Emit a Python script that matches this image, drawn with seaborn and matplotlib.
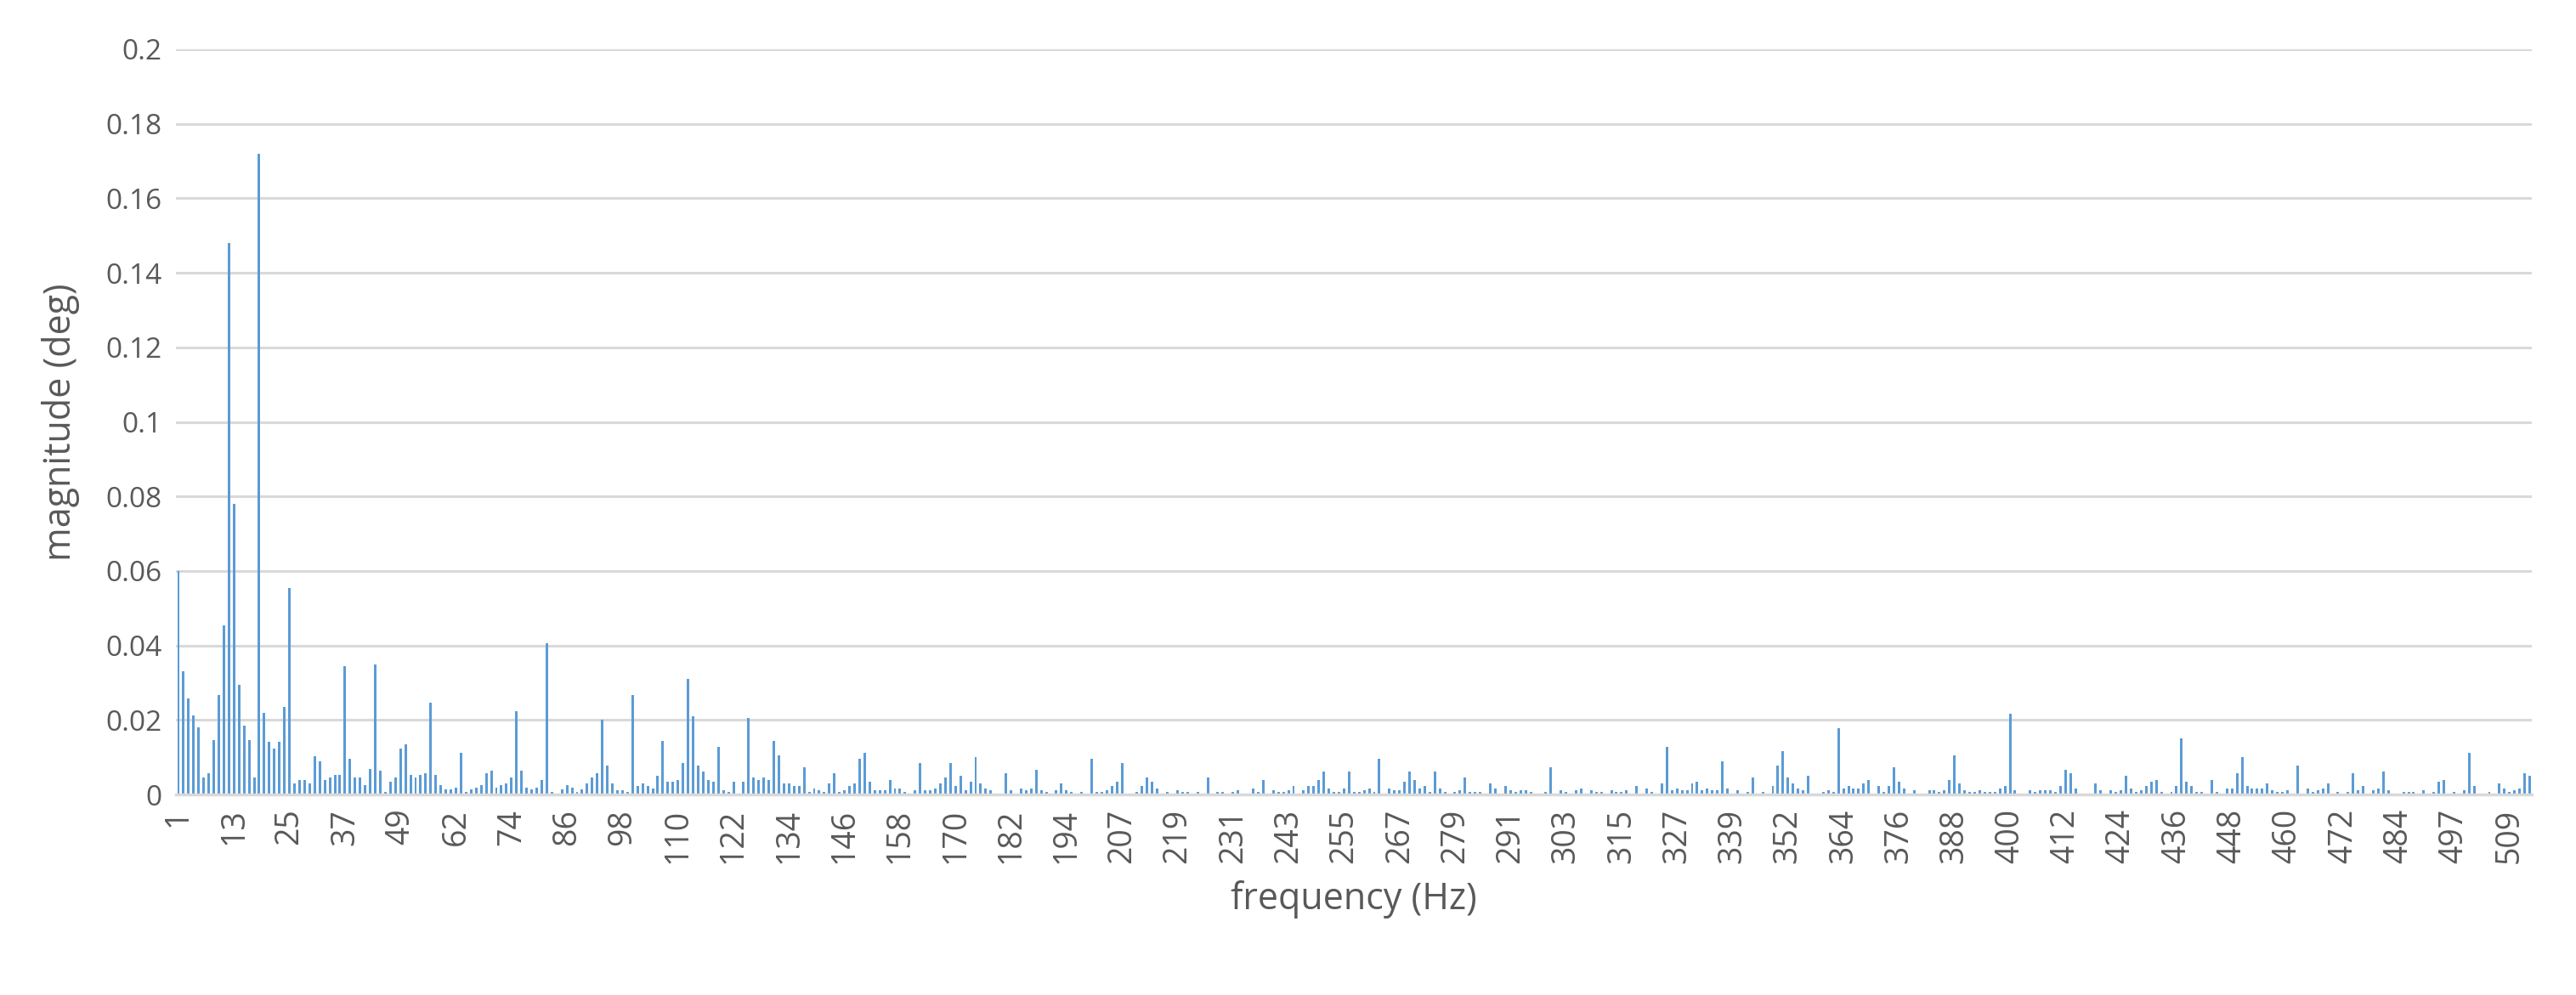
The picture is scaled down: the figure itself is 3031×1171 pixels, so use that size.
import matplotlib
matplotlib.use("Agg")
import matplotlib.pyplot as plt
import seaborn as sns
import numpy as np
import pandas as pd

vals_a = [0.060,0.033,0.0257,0.0212,0.018,0.0046,0.0057,0.0147,0.0267,0.0455,
0.148,0.078,0.0295,0.0185,0.0147,0.0046,0.172,0.0218,0.0141,0.0124,
0.0141,0.0234,0.0554,0.003,0.004,0.004,0.003,0.0102,0.009,0.004,
0.0046,0.0052,0.0052,0.0345,0.0096,0.0046,0.0046,0.0025,0.0069,0.035,
0.0064,0.0008,0.0035,0.0046,0.0124,0.0135,0.0052,0.0046,0.0052,0.0057,
0.0246,0.0052,0.0025,0.0013,0.0013,0.0019,0.0112,0.0008,0.0013,0.0019,
0.0025,0.0057,0.0064,0.0019,0.0025,0.003,0.0046,0.0223,0.0064,0.0019,
0.0013,0.0019,0.004,0.0405,0.0008,0.0003,0.0013,0.0025,0.0019,0.0008,0.0013]
vals_b = [0.0029,0.0045,0.0056,0.020,0.0078,0.0029,0.0012,0.0012,0.0006,0.0266,
0.0022,0.0029,0.0022,0.0017,0.005,0.0144,0.0034,0.0034,0.004,0.0084,
0.031,0.021,0.0078,0.0061,0.004,0.0034,0.0128,0.0012,0.0006,0.0034,
0,0.0034,0.0205,0.0045,0.004,0.0045,0.004,0.0144,0.0106,0.0029,
0.0029,0.0022,0.0022,0.0073,0.0006,0.0017,0.0012,0.0006,0.0029,0.0056,
0.0006,0.0012,0.0022,0.0029,0.0095,0.0112,0.0034,0.0012,0.0012,0.0012,
0.004,0.0017,0.0017,0.0006,0,0.0012,0.0084,0.0012,0.0012,0.0017,
0.0029,0.0045,0.0084,0.0022,0.005,0.0012,0.0034,0.010]
vals_c = [0.0029,0.0017,0.0012,0,0,0.0056,0.0012,0,0.0017,0.0012,
0.0017,0.0067,0.0012,0.0006,0,0.0012,0.0029,0.0012,0.0006,0,
0.0006,0,0.0095,0.0006,0.0006,0.0012,0.0022,0.0034,0.0084,0,
0,0.0006,0.0022,0.0045,0.0034,0.0017,0,0.0006,0,0.0012,
0.0006,0.0006,0,0.0006,0,0.0045,0,0.0006,0.0006,0,
0.0006,0.0012,0,0,0.0017,0.0006,0.004,0,0.0012,0.0006,
0.0006,0.0012,0.0022,0,0.0012,0.0022,0.0022,0.004,0.0061,0.0017,
0.0006,0.0006,0.0017,0.0061,0.0006,0.0006,0.0012]
vals_d = [0.0017,0.0006,0.0095,0,0.0017,0.0012,0.0012,0.0034,0.0061,0.004,
0.0017,0.0022,0.0006,0.0061,0.0017,0.0006,0,0.0006,0.0012,0.0045,
0.0006,0.0006,0.0006,0,0.0029,0.0017,0,0.0022,0.0012,0.0006,
0.0012,0.0012,0.0006,0,0,0.0006,0.0073,0,0.0012,0.0006,
0,0.0012,0.0017,0,0.0012,0.0006,0.0006,0,0.0012,0.0006,
0.0006,0.0012,0,0.0022,0,0.0017,0.0006,0,0.0029,0.0128,
0.0012,0.0017,0.0012,0.0012,0.0029,0.0034,0.0012,0.0017,0.0012,0.0012,
0.0089,0.0017,0,0.0012,0,0.0006,0.0045]
vals_e = [0,0.0006,0,0.0022,0.0078,0.0117,0.0045,0.0029,0.0017,0.0012,
0.005,0,0,0.0006,0.0012,0.0006,0.0178,0.0017,0.0022,0.0017,
0.0017,0.0029,0.004,0,0.0022,0.0006,0.0022,0.0073,0.0034,0.0017,
0,0.0012,0,0,0.0012,0.0012,0.0006,0.0012,0.004,0.0106,
0.0029,0.0012,0.0006,0.0006,0.0012,0.0006,0.0006,0.0006,0.0017,0.0022,
0.0216,0.0012,0,0,0.0012,0.0006,0.0012,0.0012,0.0012,0.0006,
0.0022,0.0067,0.0056,0.0017,0,0,0,0.0029,0.0012,0,
0.0012,0.0006,0.0012,0.005,0.0017,0.0006,0.0012,0.0022]
vals_f = [0.0034,0.004,0.0006,0,0.0006,0.0022,0.015,0.0034,0.0022,0.0006,
0.0006,0,0.004,0.0006,0,0.0017,0.0017,0.0056,0.010,0.0022,
0.0017,0.0017,0.0017,0.0029,0.0012,0.0006,0.0006,0.0012,0,0.0078,
0,0.0017,0.0006,0.0012,0.0017,0.0029,0,0.0006,0,0.0006,
0.0056,0.0012,0.0022,0,0.0012,0.0017,0.0061,0.0012,0,0,
0.0006,0.0006,0.0006,0,0.0012,0,0.0006,0.0034,0.004,0,
0.0006,0,0.0012,0.0112,0.0022,0,0,0.0006,0,0.0029,
0.0017,0.0006,0.0012,0.0017,0.0056,0.005]
magnitude = vals_a + vals_b + vals_c + vals_d + vals_e + vals_f

tick_labels = ["1","13","25","37","49","62","74","86","98","110","122","134","146","158",
"170","182","194","207","219","231","243","255","267","279","291","303","315","327",
"339","352","364","376","388","400","412","424","436","448","460","472","484","497","509"]

n = len(magnitude)
df = pd.DataFrame({"bin": np.arange(n), "magnitude": magnitude})

sns.set_style("white")
plt.rcParams['font.family'] = ['Open Sans', 'DejaVu Sans']

fig = plt.figure(figsize=(30.31, 11.71), dpi=100)
ax = fig.add_axes([0.0683, 0.2015, 0.9147, 0.749])
sns.barplot(data=df, x="bin", y="magnitude", color="#5B9BD5", width=0.5,
            saturation=1, ax=ax, linewidth=0)
ax.set_xlim(-0.5, n - 0.5)
ax.set_ylim(0, 0.2)
ax.set_yticks(np.arange(0, 0.2001, 0.02))
ax.set_yticklabels(["0", "0.02", "0.04", "0.06", "0.08", "0.1", "0.12", "0.14",
                    "0.16", "0.18", "0.2"])
tick_pos = list(range(0, n, 11))[:len(tick_labels)]
ax.set_xticks(tick_pos)
ax.set_xticklabels(tick_labels, rotation=90)
ax.yaxis.grid(True, color="#D9D9D9", linewidth=2.2)
ax.set_axisbelow(True)
for s in ["top", "right", "left"]:
    ax.spines[s].set_visible(False)
ax.spines["bottom"].set_color("#D9D9D9")
ax.spines["bottom"].set_linewidth(2.5)
ax.tick_params(axis="both", length=0, colors="#595959", pad=12)
ax.tick_params(axis="x", labelsize=27)
ax.tick_params(axis="y", labelsize=24)
ax.set_xlabel("frequency (Hz)", fontsize=31, color="#595959", labelpad=14)
ax.set_ylabel("magnitude (deg)", fontsize=31, color="#595959", labelpad=22)
fig.savefig("out.png", dpi=100)
